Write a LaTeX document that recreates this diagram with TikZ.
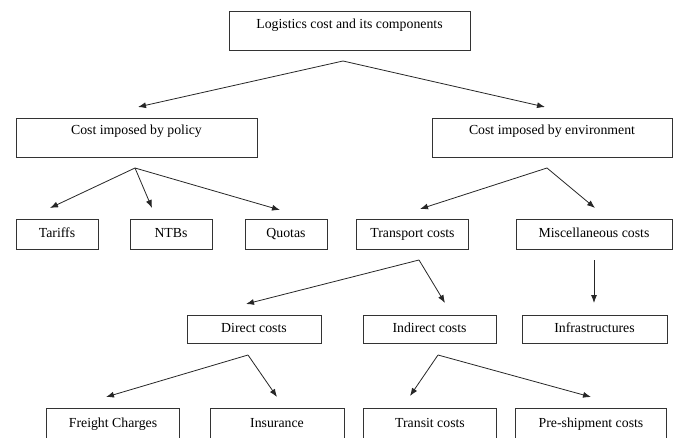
\documentclass[tikz,border=0pt]{standalone}
\usepackage{fontspec}
\setmainfont{Liberation Serif}
\usetikzlibrary{arrows.meta}
\tikzset{
    box/.style = {draw = black!80, line width = 0.8pt, inner sep = 0pt, minimum height = 30pt,
        text height = 10pt, text depth = 3pt, font = \fontsize{13.8}{16}\selectfont},
    tallbox/.style = {box, minimum height = 39pt, text depth = 15pt},
    branch/.style = {line width = 0.8pt, draw = black!85, -{Latex[length = 8pt, width = 6pt]}}
}
\begin{document}
\begin{tikzpicture}[x = 1pt, y = -1pt]
    \useasboundingbox (0,0) rectangle (674,438);
    \clip (0,0) rectangle (674,438);
    % boxes
    \node[tallbox, minimum width = 241pt] (top) at (349.5,31) {Logistics cost and its components};
    \node[tallbox, minimum width = 241pt] (policy) at (136.5,137.5) {Cost imposed by policy};
    \node[tallbox, minimum width = 240pt] (env) at (552,137.5) {Cost imposed by environment};
    \node[box, minimum width = 82pt] (tariffs) at (57,234) {Tariffs};
    \node[box, minimum width = 82pt] (ntbs) at (171,234) {NTBs};
    \node[box, minimum width = 82pt] (quotas) at (286,234) {Quotas};
    \node[box, minimum width = 112pt] (transport) at (412.5,234) {Transport costs};
    \node[box, minimum width = 156pt] (misc) at (594,234) {Miscellaneous costs};
    \node[box, minimum width = 134pt, minimum height = 28pt] (direct) at (254,329) {Direct costs};
    \node[box, minimum width = 133pt, minimum height = 28pt] (indirect) at (429.5,329) {Indirect costs};
    \node[box, minimum width = 145pt, minimum height = 28pt] (infra) at (594.5,329) {Infrastructures};
    \node[box, minimum width = 133pt, minimum height = 32pt] (freight) at (113,424) {Freight Charges};
    \node[box, minimum width = 134pt, minimum height = 32pt] (insurance) at (277,424) {Insurance};
    \node[box, minimum width = 133pt, minimum height = 32pt] (transit) at (430,424) {Transit costs};
    \node[box, minimum width = 151pt, minimum height = 32pt] (preship) at (591,424) {Pre-shipment costs};
    % forks and arrow ends
    \coordinate (top-fork) at (343,61);
    \coordinate (policy-tip) at (138,107);
    \coordinate (env-tip) at (545,107);
    \coordinate (policy-fork) at (135,168);
    \coordinate (tariffs-tip) at (50,208);
    \coordinate (ntbs-tip) at (152,208);
    \coordinate (quotas-tip) at (280,210);
    \coordinate (env-fork) at (547,168);
    \coordinate (transport-tip) at (420,209);
    \coordinate (misc-tip) at (595,208);
    \coordinate (transport-fork) at (419,260);
    \coordinate (direct-tip) at (246,304);
    \coordinate (indirect-tip) at (445,303);
    \coordinate (misc-fork) at (594,260);
    \coordinate (infra-tip) at (594,303);
    \coordinate (direct-fork) at (248,355);
    \coordinate (freight-tip) at (106,397);
    \coordinate (insurance-tip) at (277,397);
    \coordinate (indirect-fork) at (438,355);
    \coordinate (transit-tip) at (410,396);
    \coordinate (preship-tip) at (591,397);
    % arrows
    \draw[branch] (top-fork) -- (policy-tip);
    \draw[branch] (top-fork) -- (env-tip);
    \draw[branch] (policy-fork) -- (tariffs-tip);
    \draw[branch] (policy-fork) -- (ntbs-tip);
    \draw[branch] (policy-fork) -- (quotas-tip);
    \draw[branch] (env-fork) -- (transport-tip);
    \draw[branch] (env-fork) -- (misc-tip);
    \draw[branch] (transport-fork) -- (direct-tip);
    \draw[branch] (transport-fork) -- (indirect-tip);
    \draw[branch] (misc-fork) -- (infra-tip);
    \draw[branch] (direct-fork) -- (freight-tip);
    \draw[branch] (direct-fork) -- (insurance-tip);
    \draw[branch] (indirect-fork) -- (transit-tip);
    \draw[branch] (indirect-fork) -- (preship-tip);
\end{tikzpicture}
\end{document}
